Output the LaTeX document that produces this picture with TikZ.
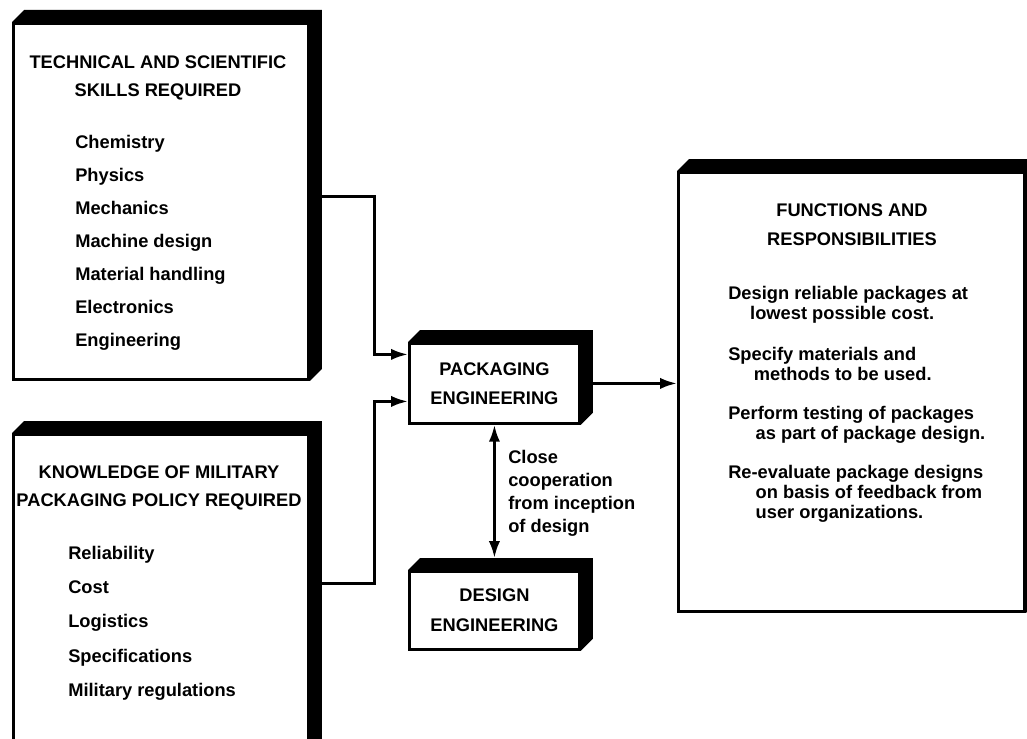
\documentclass[tikz,border=0pt]{standalone}
\usepackage{fontspec}
\setmainfont{Liberation Sans}
\usepackage{tikz}
\usetikzlibrary{positioning,arrows.meta,calc}

\tikzset{
  panel/.style={rectangle, draw, line width=2pt, fill=white, inner sep=0pt, anchor=north west},
  heading/.style={font=\fontsize{13}{20}\selectfont\bfseries, align=center, inner sep=0pt, anchor=north},
  itemlist/.style={font=\fontsize{13}{23.5}\selectfont\bfseries, align=left, inner sep=0pt, anchor=north west},
  duty/.style={font=\fontsize{13}{14.5}\selectfont\bfseries, align=left, inner sep=0pt, anchor=north west},
  link/.style={line width=2pt},
}
\newcommand{\boxshade}[1]{%
  \fill (#1.north west) -- ++(0.3cm,0.3cm) -- ($(#1.north east)+(0.3cm,0.3cm)$)
    -- ($(#1.south east)+(0.3cm,0.3cm)$) -- (#1.south east) -- (#1.north east) -- cycle;}

\begin{document}
\begin{tikzpicture}[x=0.025cm, y=-0.025cm, >={Latex[length=12pt,width=8pt]}]
        \clip (0,0) rectangle (1027,738);

        % boxes
        \node[panel, minimum width=7.375cm, minimum height=8.9cm] (skills) at (12,22) {};
        \node[panel, minimum width=7.375cm, minimum height=8.25cm] (policy) at (12,433) {};
        \node[panel, minimum width=4.25cm, minimum height=2cm, font=\fontsize{13}{20.5}\selectfont\bfseries, align=center] (pack) at (408,342) {PACKAGING\\ENGINEERING};
        \node[panel, minimum width=4.25cm, minimum height=1.95cm, font=\fontsize{13}{21}\selectfont\bfseries, align=center] (design) at (408,570) {DESIGN\\ENGINEERING};
        \node[panel, minimum width=8.65cm, minimum height=10.975cm] (duties) at (677,171) {};
        \foreach \b in {skills,policy,pack,design,duties} {\boxshade{\b}}

        % texts
        \node[heading] (skillshead) at (158,55.5) {TECHNICAL AND SCIENTIFIC\\SKILLS REQUIRED};
        \node[itemlist] (skillslist) at (75,134.5) {Chemistry\\Physics\\Mechanics\\Machine design\\Material handling\\Electronics\\Engineering};
        \node[heading] (policyhead) at (159,465.5) {KNOWLEDGE OF MILITARY\\PACKAGING POLICY REQUIRED};
        \node[itemlist, font=\fontsize{13}{24.5}\selectfont\bfseries] (policylist) at (68,545.5) {Reliability\\Cost\\Logistics\\Specifications\\Military regulations};
        \node[heading, font=\fontsize{13}{20.5}\selectfont\bfseries] (dutieshead) at (852,203.5) {FUNCTIONS AND\\RESPONSIBILITIES};
        \node[duty] (duty1) at (728,285.5) {Design reliable packages at\\\hspace*{1.2em}lowest possible cost.};
        \node[duty] (duty2) at (728,346.5) {Specify materials and\\\hspace*{1.4em}methods to be used.};
        \node[duty] (duty3) at (728,405.5) {Perform testing of packages\\\hspace*{1.5em}as part of package design.};
        \node[duty] (duty4) at (728,464.5) {Re-evaluate package designs\\\hspace*{1.5em}on basis of feedback from\\\hspace*{1.5em}user organizations.};
        \node[duty, font=\fontsize{13}{16.5}\selectfont\bfseries] (coop) at (508,449.5) {Close\\cooperation\\from inception\\of design};

        % connectors
        \draw[->, link] ([yshift=0.125cm]skills.east) -- ++(65,0) |- ([yshift=0.725cm]pack.west);
        \draw[->, link] ([yshift=0.4cm]policy.east) -- ++(65,0) |- ([yshift=-0.45cm]pack.west);
        \draw[->, link] (pack.east) -- (pack.east -| duties.west);
        \draw[<->, link] (pack.south) -- ([yshift=0.3cm]design.north);
    \end{tikzpicture}
\end{document}
